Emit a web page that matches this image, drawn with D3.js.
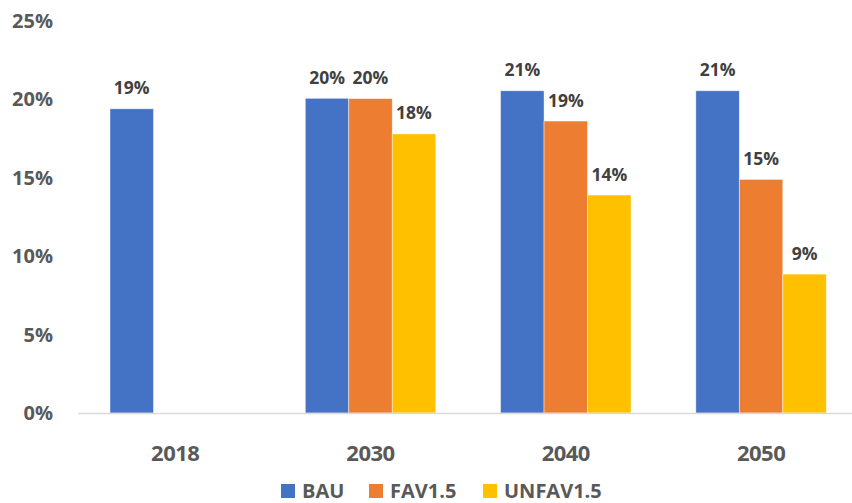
<!DOCTYPE html>
<html>
<head>
<meta charset="utf-8">
<script src="https://cdn.jsdelivr.net/npm/d3@7"></script>
<style>
  body { margin: 0; background: #fff; }
  svg { display: block; font-family: "Open Sans", sans-serif; font-weight: bold; }
</style>
</head>
<body>
<div id="chart"></div>
<script>
const years = ["2018", "2030", "2040", "2050"];
const seriesNames = ["BAU", "FAV1.5", "UNFAV1.5"];
const bau = [19.4, 20.07, 20.55, 20.55];
const fav = [null, 20.05, 18.62, 14.9];
const unfav = [null, 17.8, 13.9, 8.86];
const yTicks = [0, 5, 10, 15, 20, 25];
const colors = ["#4472C4", "#ED7D31", "#FFC000"];

const W = 852, H = 503;
const values = [bau, fav, unfav];
const rows = years.map((y, i) => ({
    year: y,
    vals: seriesNames.map((s, j) => ({ key: s, value: values[j][i] }))
}));

const svg = d3.select("#chart").append("svg")
    .attr("width", W)
    .attr("height", H);

const x0 = d3.scaleBand()
    .domain(years)
    .range([77.6, 858.7])
    .padding(0);

const x1 = d3.scaleBand()
    .domain(seriesNames)
    .range([0, x0.bandwidth()])
    .paddingInner(0)
    .paddingOuter(0.745);

const y = d3.scaleLinear()
    .domain([0, 25])
    .range([413, 21]);

const color = d3.scaleOrdinal().domain(seriesNames).range(colors);

// y tick labels, no axis line
svg.append("g")
    .selectAll("text")
    .data(yTicks)
    .enter()
    .append("text")
    .attr("x", 53)
    .attr("y", d => y(d))
    .attr("dy", "0.35em")
    .attr("text-anchor", "end")
    .attr("fill", "#595959")
    .style("font-size", "20px")
    .text(d => d + "%");

// bars
const groups = svg.append("g")
    .selectAll("g")
    .data(rows)
    .enter()
    .append("g")
    .attr("transform", d => `translate(${x0(d.year)},0)`);

groups.selectAll("rect")
    .data(d => d.vals.filter(v => v.value != null))
    .enter()
    .append("rect")
    .attr("x", d => x1(d.key))
    .attr("y", d => y(d.value))
    .attr("width", x1.bandwidth())
    .attr("height", d => y(0) - y(d.value))
    .attr("fill", d => color(d.key))
    .attr("stroke", "#ffffff")
    .attr("stroke-opacity", 0.6)
    .attr("stroke-width", 0.75);

groups.selectAll("text")
    .data(d => d.vals.filter(v => v.value != null))
    .enter()
    .append("text")
    .attr("x", d => x1(d.key) + x1.bandwidth() / 2)
    .attr("y", d => y(d.value) - 14.5)
    .attr("text-anchor", "middle")
    .attr("fill", "#404040")
    .style("font-size", "17.5px")
    .text(d => Math.round(d.value) + "%");

// x axis
const xAxis = svg.append("g")
    .attr("transform", `translate(0,${y(0)})`)
    .call(d3.axisBottom(x0).tickSize(0).tickPadding(32));
xAxis.select(".domain").attr("stroke", "#d9d9d9").attr("stroke-width", 1.5);
xAxis.selectAll("text")
    .attr("fill", "#595959")
    .style("font-family", "'Open Sans', sans-serif")
    .style("font-weight", "bold")
    .style("font-size", "22px")
    .style("letter-spacing", "-0.5px");

// legend
const legendX = [281, 369, 483];
const legend = svg.append("g")
    .selectAll("g")
    .data(seriesNames)
    .enter()
    .append("g")
    .attr("transform", (d, i) => `translate(${legendX[i]},484)`);

legend.append("rect")
    .attr("width", 14)
    .attr("height", 14)
    .attr("fill", d => color(d));

legend.append("text")
    .attr("x", 21)
    .attr("y", 14)
    .attr("fill", "#595959")
    .style("font-size", "20px")
    .text(d => d);
</script>
</body>
</html>
